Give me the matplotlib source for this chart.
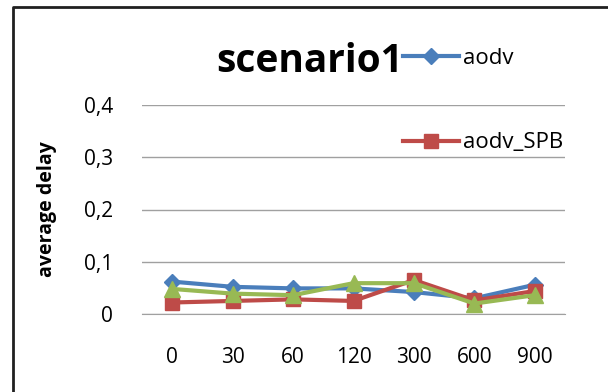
import matplotlib.pyplot as plt
from matplotlib.lines import Line2D

# data
categories = ["0", "30", "60", "120", "300", "600", "900"]
aodv = [0.062, 0.052, 0.049, 0.049, 0.042, 0.030, 0.056]
aodv_spb = [0.022, 0.025, 0.028, 0.025, 0.065, 0.026, 0.044]
third = [0.048, 0.039, 0.036, 0.059, 0.059, 0.020, 0.036]
yticks = [0, 0.1, 0.2, 0.3, 0.4]
ytick_labels = ["0", "0,1", "0,2", "0,3", "0,4"]

plt.rcParams['font.family'] = ['Open Sans', 'DejaVu Sans']

fig = plt.figure(figsize=(6.08, 3.92), dpi=100)
ax = fig.add_axes([142 / 608, 1 - 314 / 392, 423 / 608, 209 / 392])

x = list(range(len(categories)))
ax.plot(x, aodv, color="#4A7EBB", lw=3, marker="D", ms=8, label="aodv")
ax.plot(x, aodv_spb, color="#BE4B48", lw=3, marker="s", ms=10, label="aodv_SPB")
ax.plot(x, third, color="#98B954", lw=3, marker="^", ms=11)

ax.set_xlim(-0.5, len(categories) - 0.5)
ax.set_ylim(0, 0.4)
ax.set_xticks(x)
ax.set_xticklabels(categories, fontsize=15)
ax.set_yticks(yticks)
ax.set_yticklabels(ytick_labels, fontsize=15)
ax.tick_params(length=0)
ax.tick_params(axis="x", pad=24)
ax.tick_params(axis="y", pad=21)
ax.yaxis.grid(True, color="#A0A0A0", lw=1)
for s in ["top", "right", "left"]:
    ax.spines[s].set_visible(False)
ax.spines["bottom"].set_color("#A0A0A0")
ax.set_ylabel("average delay", fontsize=14, fontweight="bold", labelpad=19)

fig.text(310 / 608, 1 - 62 / 392, "scenario1", fontsize=28, fontweight="bold",
         ha="center", va="center")

fig.legend(loc="upper left", bbox_to_anchor=(403 / 608, 1 - 48 / 392), frameon=False,
           fontsize=16, labelspacing=2.85, handlelength=2.5, handletextpad=0.2,
           borderpad=0, borderaxespad=0)

# outer frame (only top and left visible)
fig.lines.append(Line2D([13 / 608, 13 / 608, 1.0], [0, 1 - 7 / 392, 1 - 7 / 392],
                        transform=fig.transFigure, color="#202020", lw=2))

fig.savefig("out.png", dpi=100)
